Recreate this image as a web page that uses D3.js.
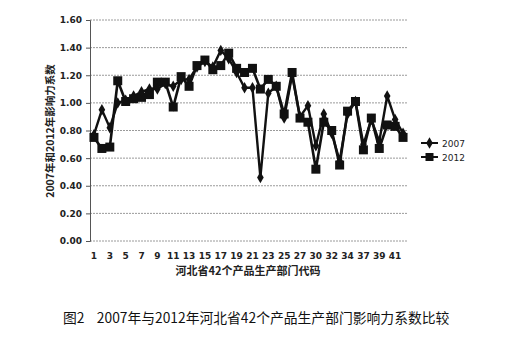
<!DOCTYPE html>
<html>
<head>
<meta charset="utf-8">
<script src="https://cdn.jsdelivr.net/npm/d3@7"></script>
<style>
  body { margin: 0; background: #fff; }
  svg { display: block; }
</style>
</head>
<body>
<div id="chart"></div>
<script>
var width = 520, height = 339;

// sector codes shown on the category axis (40 points)
var codes = [1,2,3,4,5,6,7,8,9,10,11,12,13,14,15,16,17,18,19,20,
  21,22,23,24,25,26,27,28,30,31,32,33,34,35,37,38,39,40,41,42];
var tickCodes = [1,3,5,7,9,11,13,15,17,19,21,23,25,27,30,32,34,37,39,41];
var yTicks = [0,0.2,0.4,0.6,0.8,1.0,1.2,1.4,1.6];

var v2007 = [0.77,0.95,0.82,1.00,1.02,1.05,1.08,1.10,1.10,1.14,
  1.12,1.17,1.17,1.26,1.30,1.26,1.38,1.32,1.22,1.11,
  1.11,0.46,1.07,1.12,0.89,1.20,0.90,0.98,0.69,0.92,
  0.78,0.58,0.92,1.01,0.70,0.88,0.72,1.05,0.88,0.78];
var v2012 = [0.75,0.67,0.68,1.16,1.01,1.03,1.04,1.06,1.15,1.15,
  0.97,1.19,1.12,1.27,1.31,1.24,1.27,1.36,1.25,1.22,
  1.25,1.10,1.17,1.12,0.92,1.22,0.89,0.86,0.52,0.86,
  0.80,0.55,0.94,1.01,0.66,0.89,0.67,0.84,0.83,0.75];

var plotL = 90, plotR = 407, plotT = 20, plotB = 241;

var svg = d3.select("#chart").append("svg")
  .attr("width", width)
  .attr("height", height);

var x = d3.scaleBand()
  .domain(codes)
  .range([plotL, plotR]);

var y = d3.scaleLinear()
  .domain([0, 1.6])
  .range([plotB, plotT]);

// grid lines
svg.append("g")
  .selectAll("line")
  .data(yTicks)
  .join("line")
  .attr("x1", plotL)
  .attr("x2", plotR)
  .attr("y1", d => y(d))
  .attr("y2", d => y(d))
  .attr("stroke", "#9a9a9a")
  .attr("stroke-width", 1)
  .attr("stroke-dasharray", "2,1");

// y axis
var yAxis = svg.append("g")
  .attr("transform", `translate(${plotL},0)`)
  .call(d3.axisLeft(y).tickValues(yTicks).tickSize(4).tickPadding(4).tickFormat(d3.format(".2f")));
yAxis.select(".domain").attr("stroke", "#555");
yAxis.selectAll(".tick line").attr("stroke", "#555");
yAxis.selectAll("text")
  .attr("font-family", "'DejaVu Sans', sans-serif")
  .attr("font-size", 9)
  .attr("font-weight", "bold")
  .attr("fill", "#222");

// x axis labels
var xAxis = svg.append("g")
  .attr("transform", `translate(0,${plotB})`)
  .call(d3.axisBottom(x).tickValues(tickCodes).tickSize(0).tickPadding(12));
xAxis.select(".domain").remove();
xAxis.selectAll("text")
  .attr("font-family", "'DejaVu Sans', sans-serif")
  .attr("font-size", 9)
  .attr("font-weight", "bold")
  .attr("fill", "#222");

var cx = d => x(d) + x.bandwidth() / 2;

var line = d3.line()
  .x((d, i) => cx(codes[i]))
  .y(d => y(d));

// 2012 series (squares)
svg.append("path")
  .datum(v2012)
  .attr("d", line)
  .attr("fill", "none")
  .attr("stroke", "#111")
  .attr("stroke-width", 2.6);
svg.append("g")
  .selectAll("rect")
  .data(v2012)
  .join("rect")
  .attr("x", (d, i) => cx(codes[i]) - 4.5)
  .attr("y", d => y(d) - 4.5)
  .attr("width", 9)
  .attr("height", 9)
  .attr("fill", "#111");

// 2007 series (diamonds)
svg.append("path")
  .datum(v2007)
  .attr("d", line)
  .attr("fill", "none")
  .attr("stroke", "#111")
  .attr("stroke-width", 2.4);
var diamond = d3.symbol().type(d3.symbolDiamond).size(38);
svg.append("g")
  .selectAll("path")
  .data(v2007)
  .join("path")
  .attr("d", diamond)
  .attr("transform", (d, i) => `translate(${cx(codes[i])},${y(d)})`)
  .attr("fill", "#111");

// legend
var legend = svg.append("g").attr("transform", "translate(421,143)");
[["2007", "d"], ["2012", "s"]].forEach(function(item, i) {
  var g = legend.append("g").attr("transform", `translate(0,${i * 14})`);
  g.append("line").attr("x1", 0).attr("x2", 17).attr("stroke", "#111").attr("stroke-width", 2);
  if (item[1] == "d") {
    g.append("path").attr("d", diamond).attr("transform", "translate(8.5,0)").attr("fill", "#111");
  } else {
    g.append("rect").attr("x", 4.5).attr("y", -4).attr("width", 8).attr("height", 8).attr("fill", "#111");
  }
  g.append("text")
    .attr("x", 21)
    .attr("y", 3.5)
    .attr("font-family", "'DejaVu Sans', sans-serif")
    .attr("font-size", 9)
    .attr("fill", "#222")
    .text(item[0]);
});

// axis titles
svg.append("text")
  .attr("transform", "translate(54,131) rotate(-90)")
  .attr("text-anchor", "middle")
  .attr("font-family", "'Noto Sans CJK SC', sans-serif")
  .attr("font-size", 10.5)
  .attr("font-weight", "bold")
  .attr("fill", "#222")
  .text("2007年和2012年影响力系数");

svg.append("text")
  .attr("x", 248)
  .attr("y", 275)
  .attr("text-anchor", "middle")
  .attr("font-family", "'Noto Sans CJK SC', sans-serif")
  .attr("font-size", 11)
  .attr("font-weight", "bold")
  .attr("fill", "#222")
  .text("河北省42个产品生产部门代码");

// caption
svg.append("text")
  .attr("x", 63)
  .attr("y", 323)
  .attr("font-family", "'Noto Sans CJK SC', sans-serif")
  .attr("font-size", 13.8)
  .attr("fill", "#111")
  .style("white-space", "pre")
  .text("图2    2007年与2012年河北省42个产品生产部门影响力系数比较");
</script>
</body>
</html>
